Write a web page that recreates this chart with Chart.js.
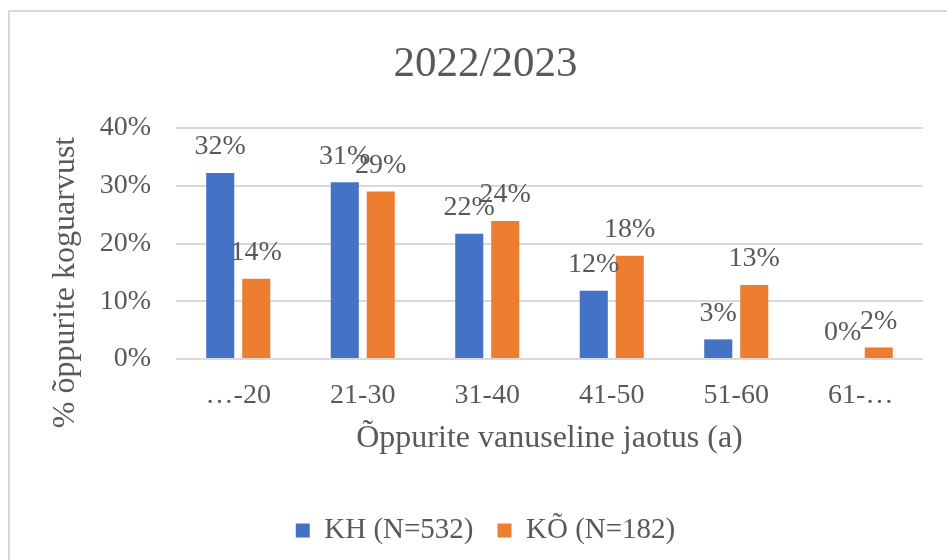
<!DOCTYPE html>
<html>
<head>
<meta charset="utf-8">
<script src="https://cdn.jsdelivr.net/npm/chart.js@4/dist/chart.umd.min.js"></script>
<style>
  html, body { margin: 0; padding: 0; width: 947px; height: 560px; overflow: hidden; background: #fff; }
  #box { position: absolute; left: 8px; top: 10px; width: 950px; height: 580px; border: 2px solid #d9d9d9; background: #fff; }
  #wrap { position: absolute; left: 0; top: 0; width: 950px; height: 560px; }
</style>
</head>
<body>
<div id="box"><div id="wrap"><canvas id="c"></canvas></div></div>
<script>
const chartTitle = '2022/2023';
const categories = ['…-20', '21-30', '31-40', '41-50', '51-60', '61-…'];
const seriesNames = ['KH (N=532)', 'KÕ (N=182)'];
const khValues = [32.2, 30.6, 21.7, 11.8, 3.4, 0];
const koValues = [13.9, 29.0, 23.9, 17.9, 12.8, 2.0];
const yTicks = [0, 10, 20, 30, 40];
const xAxisTitle = 'Õppurite vanuseline jaotus (a)';
const yAxisTitle = '% õppurite koguarvust';

const FONT = "'Liberation Serif', 'Times New Roman', serif";
const TEXT = '#595959';

const dataLabels = {
  id: 'dataLabels',
  afterDatasetsDraw(chart) {
    const ctx = chart.ctx;
    ctx.save();
    ctx.font = '28px ' + FONT;
    ctx.fillStyle = TEXT;
    ctx.textAlign = 'center';
    ctx.textBaseline = 'middle';
    chart.data.datasets.forEach((ds, i) => {
      const meta = chart.getDatasetMeta(i);
      meta.data.forEach((bar, j) => {
        const v = ds.data[j];
        ctx.fillText(Math.round(v) + '%', bar.x, bar.y - 26);
      });
    });
    ctx.restore();
  }
};

// y-axis title, placed like the spreadsheet does (centred a little below the plot centre)
const yTitlePlugin = {
  id: 'yTitle',
  afterDraw(chart) {
    const ctx = chart.ctx;
    const ca = chart.chartArea;
    const ys = chart.scales.y;
    ctx.save();
    ctx.font = '32px ' + FONT;
    ctx.fillStyle = TEXT;
    ctx.textAlign = 'center';
    ctx.textBaseline = 'middle';
    ctx.translate(ys.left + 17.5, (ca.top + ca.bottom) / 2 + 39);
    ctx.rotate(-Math.PI / 2);
    ctx.fillText(yAxisTitle, 0, 0);
    ctx.restore();
  }
};

new Chart(document.getElementById('c'), {
  type: 'bar',
  data: {
    labels: categories,
    datasets: [
      { label: seriesNames[0], data: khValues, backgroundColor: '#4472C4', borderWidth: 0 },
      { label: seriesNames[1], data: koValues, backgroundColor: '#ED7D31', borderWidth: 0 }
    ]
  },
  options: {
    responsive: true,
    maintainAspectRatio: false,
    animation: false,
    layout: { padding: { left: 38, right: 37, top: 0, bottom: 17 } },
    datasets: { bar: { categoryPercentage: 0.578, barPercentage: 0.78 } },
    plugins: {
      title: {
        display: true, text: chartTitle, color: TEXT,
        font: { family: FONT, size: 43, weight: 'normal' },
        padding: { top: 27, bottom: 37.4 }
      },
      legend: {
        position: 'bottom',
        labels: {
          color: TEXT, boxWidth: 14, boxHeight: 14, padding: 24,
          font: { family: FONT, size: 29 }
        }
      },
      tooltip: { enabled: false }
    },
    scales: {
      x: {
        grid: { display: false, drawTicks: false },
        border: { display: false },
        ticks: { color: TEXT, font: { family: FONT, size: 28 }, padding: 20, maxRotation: 0 },
        title: { display: true, text: xAxisTitle, color: TEXT, font: { family: FONT, size: 32 }, padding: { top: -12.8, bottom: 33.8 } }
      },
      y: {
        min: 0, max: 40,
        afterBuildTicks(scale) { scale.ticks = yTicks.map(v => ({ value: v })); },
        afterFit(scale) { scale.width = 128; },
        grid: { color: '#d9d9d9', lineWidth: 2, drawTicks: false },
        border: { display: false },
        ticks: { color: TEXT, font: { family: FONT, size: 28 }, padding: 25, callback: v => v + '%' },
        title: { display: false, text: yAxisTitle }
      }
    }
  },
  plugins: [dataLabels, yTitlePlugin]
});
</script>
</body>
</html>
